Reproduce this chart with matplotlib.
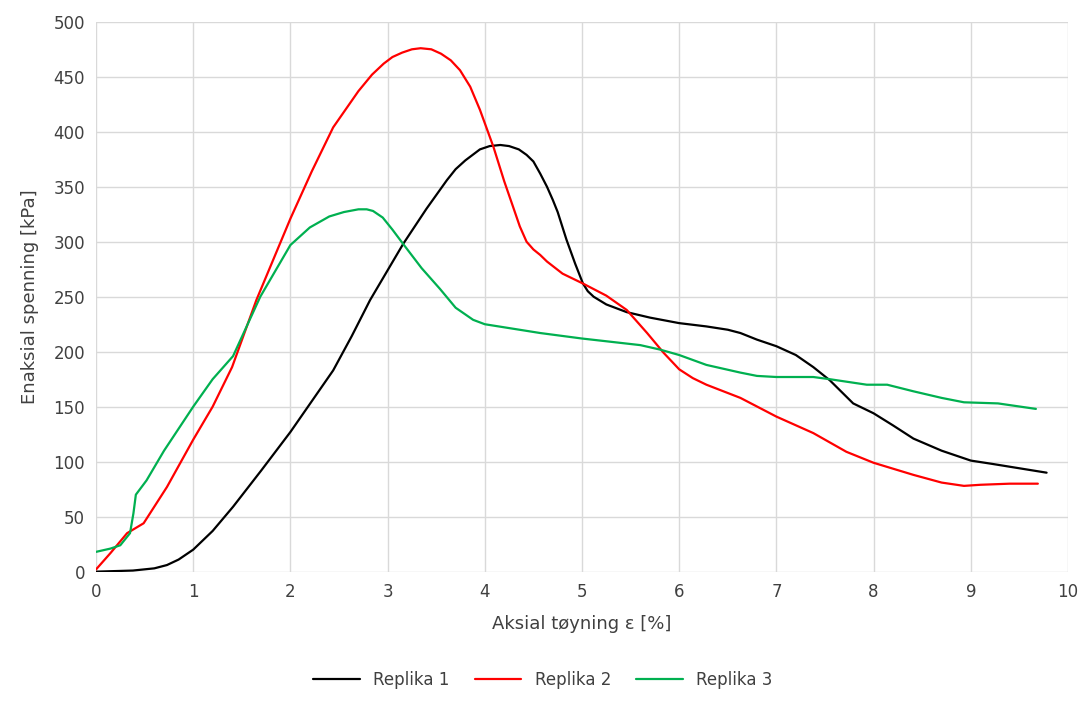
import numpy as np
import matplotlib
matplotlib.use("Agg")
from matplotlib import pyplot as plt

# Replika 1 (black)
strain_1 = [0, 0.38, 0.6, 0.73, 0.85, 1.0, 1.2, 1.41, 1.7, 2.0, 2.22, 2.44, 2.63, 2.82, 2.92,
            3.16, 3.4, 3.61, 3.7, 3.8, 3.95, 4.05, 4.16, 4.25, 4.35, 4.43, 4.5, 4.57, 4.64,
            4.7, 4.75, 4.84, 4.93, 5.01, 5.06, 5.12, 5.25, 5.46, 5.7, 6.0, 6.28, 6.5, 6.63,
            6.8, 7.0, 7.2, 7.38, 7.55, 7.79, 8.0, 8.2, 8.41, 8.7, 9.0, 9.22, 9.5, 9.78]
stress_1 = [0, 1, 3, 6, 11, 20, 37, 59, 92, 127, 155, 183, 214, 247, 262,
            298, 330, 356, 366, 374, 384, 387, 388, 387, 384, 379, 373, 362, 350,
            338, 327, 302, 280, 262, 255, 250, 243, 236, 231, 226, 223, 220, 217,
            211, 205, 197, 186, 174, 153, 144, 133, 121, 110, 101, 98, 94, 90]

# Replika 2 (red)
strain_2 = [0, 0.15, 0.32, 0.49, 0.73, 1.0, 1.2, 1.4, 1.65, 2.0, 2.22, 2.44, 2.7, 2.84,
            2.96, 3.05, 3.15, 3.25, 3.34, 3.45, 3.55, 3.65, 3.745, 3.85, 3.95, 4.09, 4.2,
            4.29, 4.36, 4.43, 4.5, 4.57, 4.64, 4.8, 5.01, 5.25, 5.46, 5.67, 5.84, 6.0, 6.14,
            6.28, 6.63, 7.0, 7.38, 7.72, 8.0, 8.41, 8.7, 8.93, 9.1, 9.4, 9.69]
stress_2 = [2, 17, 35, 44, 77, 120, 150, 186, 247, 321, 364, 404, 437, 452,
            462, 468, 472, 475, 476, 475, 471, 465, 456, 441, 420, 386, 355,
            332, 314, 300, 293, 288, 282, 271, 262, 251, 238, 217, 199, 184, 176,
            170, 158, 141, 126, 109, 99, 88, 81, 78, 79, 80, 80]

# Replika 3 (green)
strain_3 = [0, 0.15, 0.25, 0.35, 0.385, 0.41, 0.52, 0.7, 1.0, 1.2, 1.41, 1.69, 2.0, 2.2,
            2.4, 2.55, 2.7, 2.785, 2.85, 2.95, 3.05, 3.16, 3.35, 3.54, 3.7, 3.88, 4.0, 4.57,
            5.0, 5.6, 5.8, 6.0, 6.28, 6.63, 6.8, 7.0, 7.38, 7.55, 7.93, 8.14, 8.41, 8.7,
            8.93, 9.28, 9.67]
stress_3 = [18, 21, 24, 35, 53, 70, 83, 110, 150, 175, 196, 250, 297, 313,
            323, 327, 329.5, 329.5, 328, 322, 311, 298, 276, 257, 240, 229, 225, 217,
            212, 206, 202, 197, 188, 181, 178, 177, 177, 175, 170, 170, 164, 158,
            154, 153, 148]

x_ticks = list(range(0, 11))
y_ticks = list(range(0, 501, 50))

fig = plt.figure(figsize=(10.86, 7.04), dpi=100)
ax = fig.add_axes([0.0884, 0.188, 0.895, 0.781])

line_kw = dict(lw=1.6, solid_joinstyle="round", solid_capstyle="round")
ax.plot(strain_1, stress_1, color="#000000", label="Replika 1", **line_kw)
ax.plot(strain_2, stress_2, color="#ff0000", label="Replika 2", **line_kw)
ax.plot(strain_3, stress_3, color="#00b050", label="Replika 3", **line_kw)

ax.set_xlim(0, 10)
ax.set_ylim(0, 500)
ax.set_xticks(x_ticks)
ax.set_yticks(y_ticks)
ax.grid(True, color="#d9d9d9", lw=1)
ax.set_axisbelow(True)
for s in ax.spines.values():
    s.set_visible(False)
ax.tick_params(length=0, labelsize=12, colors="#404040", pad=8)

ax.set_xlabel("Aksial tøyning ε [%]", fontsize=13, color="#404040", labelpad=10)
ax.set_ylabel("Enaksial spenning [kPa]", fontsize=13, color="#404040", labelpad=10)

fig.legend(loc="lower center", ncol=3, frameon=False, fontsize=12,
           bbox_to_anchor=(0.5, 0.0), handlelength=2.8, columnspacing=1.5,
           labelcolor="#404040")

fig.savefig("out.png", dpi=100)
